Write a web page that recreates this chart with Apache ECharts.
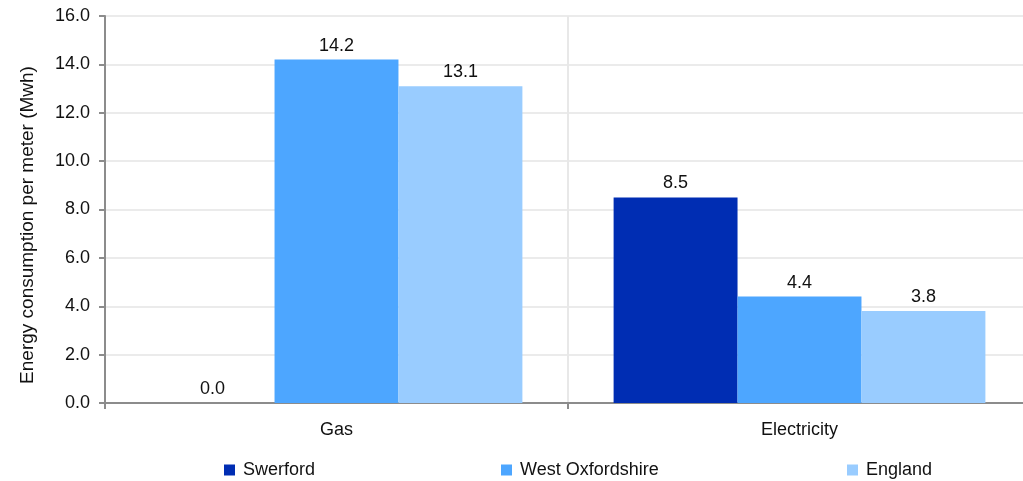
<!DOCTYPE html>
<html><head><meta charset="utf-8">
<script src="https://cdn.jsdelivr.net/npm/echarts@6/dist/echarts.min.js"></script>
<style>html,body{margin:0;padding:0;background:#fff}#c{width:1023px;height:481px}</style>
</head><body><div id="c"></div>
<script>
const categories = ['Gas', 'Electricity'];
const swerford = [0.0, 8.5];
const westOxfordshire = [14.2, 4.4];
const england = [13.1, 3.8];
const yAxisName = 'Energy consumption per meter (Mwh)';

const font = 'Liberation Sans, Arial, sans-serif';
const chart = echarts.init(document.getElementById('c'), null, {renderer: 'canvas'});
const lbl = {show: true, position: 'top', distance: 5, fontSize: 18, fontFamily: font, color: '#111',
  formatter: p => p.value.toFixed(1)};
function legend(name, left) {
  return {data: [name], left: left, top: 456, itemWidth: 11, itemHeight: 11, icon: 'rect', itemGap: 8,
    textStyle: {fontSize: 18, fontFamily: font, color: '#111', padding: [0, 0, 0, 3]}};
}
chart.setOption({
  animation: false,
  legend: [legend('Swerford', 219), legend('West Oxfordshire', 496), legend('England', 842)],
  grid: {left: 105, top: 16, width: 926, height: 387, containLabel: false, outerBoundsMode: 'none'},
  graphic: [{type: 'text', x: 28, y: 225, rotation: Math.PI / 2,
    style: {text: yAxisName, fontSize: 19, fontFamily: font, fill: '#111', align: 'center', verticalAlign: 'middle'}}],
  xAxis: {
    type: 'category', data: categories,
    axisLine: {lineStyle: {color: '#8c8c8c', width: 2}},
    axisTick: {show: true, length: 6, lineStyle: {color: '#8c8c8c', width: 2}},
    axisLabel: {fontSize: 18, fontFamily: font, color: '#111', margin: 18},
    splitLine: {show: true, lineStyle: {color: '#e8e8e8', width: 2}}
  },
  yAxis: {
    type: 'value', min: 0, max: 16, interval: 2,
    axisLine: {show: true, lineStyle: {color: '#8c8c8c', width: 2}},
    axisTick: {show: true, length: 6, lineStyle: {color: '#8c8c8c', width: 2}},
    axisLabel: {fontSize: 18, fontFamily: font, color: '#111', margin: 15, formatter: v => v.toFixed(1)},
    splitLine: {show: true, lineStyle: {color: '#ebebeb', width: 2}}
  },
  series: [
    {name: 'Swerford', type: 'bar', data: swerford, itemStyle: {color: '#002db3'}, label: lbl, barGap: '0%', barCategoryGap: '19.7%'},
    {name: 'West Oxfordshire', type: 'bar', data: westOxfordshire, itemStyle: {color: '#4da6ff'}, label: lbl},
    {name: 'England', type: 'bar', data: england, itemStyle: {color: '#99ccff'}, label: lbl}
  ]
});
</script></body></html>
